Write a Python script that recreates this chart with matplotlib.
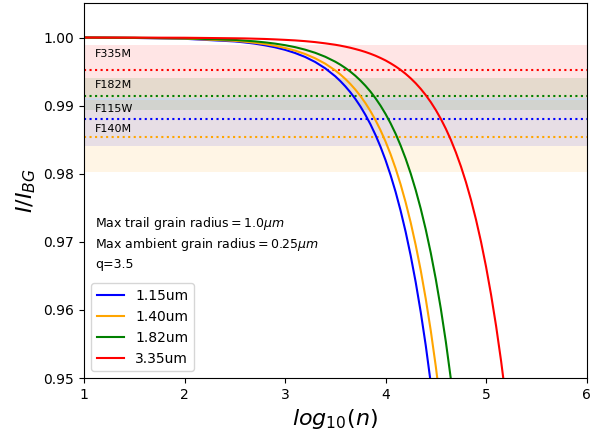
import matplotlib.pyplot as plt

# log10(n) sample points
log_n = [1.0, 1.5, 2.0, 2.5, 2.6, 2.7, 2.8, 2.9, 3.0, 3.1, 3.2, 3.3, 3.4, 3.5,
         3.55, 3.6, 3.65, 3.7, 3.75, 3.8, 3.85, 3.9, 3.95, 4.0, 4.05, 4.1,
         4.15, 4.2, 4.25, 4.3, 4.35, 4.4, 4.45, 4.5, 4.55, 4.6, 4.65, 4.7,
         4.75, 4.8, 4.85, 4.9, 4.95, 5.0, 5.05, 5.1, 5.15, 5.2]

# normalised intensity I/I_BG for each wavelength
i_115 = [1.00000, 0.99994, 0.99982, 0.99943, 0.99928, 0.99910, 0.99886, 0.99857,
         0.99820, 0.99773, 0.99715, 0.99641, 0.99548, 0.99431, 0.99361, 0.99283,
         0.99196, 0.99098, 0.98988, 0.98864, 0.98726, 0.98570, 0.98396, 0.98200,
         0.97980, 0.97734, 0.97457, 0.97147, 0.96799, 0.96408, 0.95970, 0.95479,
         0.94927]
i_140 = [1.00000, 0.99995, 0.99985, 0.99952, 0.99939, 0.99923, 0.99904, 0.99879,
         0.99847, 0.99808, 0.99758, 0.99695, 0.99616, 0.99517, 0.99458, 0.99392,
         0.99318, 0.99235, 0.99141, 0.99037, 0.98919, 0.98787, 0.98639, 0.98473,
         0.98287, 0.98078, 0.97843, 0.97580, 0.97285, 0.96953, 0.96582, 0.96164,
         0.95696, 0.95171, 0.94580]
i_182 = [1.00000, 0.99996, 0.99989, 0.99965, 0.99955, 0.99944, 0.99929, 0.99911,
         0.99888, 0.99859, 0.99822, 0.99776, 0.99718, 0.99645, 0.99602, 0.99553,
         0.99499, 0.99438, 0.99369, 0.99292, 0.99206, 0.99109, 0.99000, 0.98878,
         0.98741, 0.98588, 0.98415, 0.98222, 0.98005, 0.97761, 0.97488, 0.97182,
         0.96838, 0.96452, 0.96019, 0.95533, 0.94985]
i_335 = [1.00000, 0.99999, 0.99997, 0.99989, 0.99987, 0.99983, 0.99979, 0.99973,
         0.99966, 0.99958, 0.99947, 0.99933, 0.99915, 0.99894, 0.99881, 0.99866,
         0.99850, 0.99831, 0.99811, 0.99788, 0.99762, 0.99733, 0.99700, 0.99664,
         0.99622, 0.99576, 0.99525, 0.99467, 0.99402, 0.99329, 0.99247, 0.99155,
         0.99052, 0.98936, 0.98806, 0.98660, 0.98497, 0.98313, 0.98108, 0.97877,
         0.97618, 0.97327, 0.97001, 0.96635, 0.96224, 0.95764, 0.95247, 0.94667]

labels = ['1.15um', '1.40um', '1.82um', '3.35um']
colors = ['blue', 'orange', 'green', 'red']

# measured filter depths and their ranges
filters = ['F335M', 'F182M', 'F115W', 'F140M']
filter_colors = ['red', 'green', 'blue', 'orange']
filter_depth = [0.99525, 0.99143, 0.98804, 0.98544]
filter_low = [0.99118, 0.98941, 0.98402, 0.98029]
filter_high = [0.99887, 0.99412, 0.99118, 0.99078]
filter_text_y = [0.99760, 0.99309, 0.98956, 0.98662]

fig = plt.figure(figsize=(6.04, 4.37), dpi=100)
ax = fig.add_axes([0.1391, 0.135, 0.832, 0.857])

for name, c, d, lo, hi, ty in zip(filters, filter_colors, filter_depth,
                                  filter_low, filter_high, filter_text_y):
    ax.axhspan(lo, hi, color=c, alpha=0.1, lw=0)
    ax.axhline(d, color=c, ls=':', lw=1.5)
    ax.text(1.11, ty, name, fontsize=8, va='center')

for vals, lab, c in zip([i_115, i_140, i_182, i_335], labels, colors):
    ax.plot(log_n[:len(vals)], vals, color=c, label=lab)

ax.text(1.11, 0.97265, r'Max trail grain radius$=1.0\mu m$', fontsize=9, va='center')
ax.text(1.11, 0.96966, r'Max ambient grain radius$=0.25\mu m$', fontsize=9, va='center')
ax.text(1.11, 0.96662, 'q=3.5', fontsize=9, va='center')

ax.set_xlim(1, 6)
ax.set_ylim(0.95, 1.005)
ax.set_xlabel(r'$log_{10}(n)$', fontsize=16)
ax.set_ylabel(r'$I/I_{BG}$', fontsize=16)
ax.legend(loc='lower left')

fig.savefig('out.png')
